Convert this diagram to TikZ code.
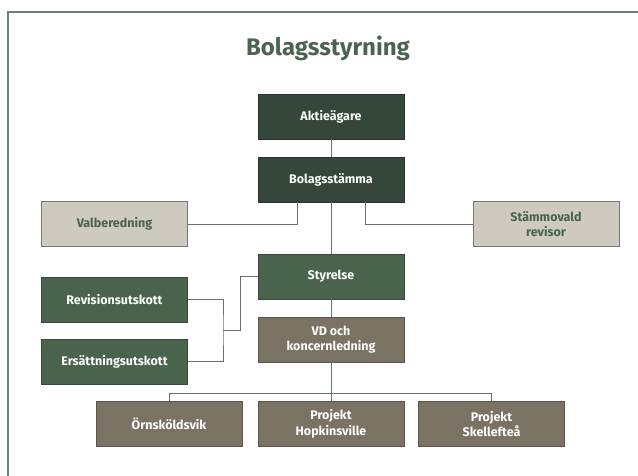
\documentclass[tikz,border=0pt]{standalone}
\usepackage{fontspec}
\setmainfont{Fira Sans}
\definecolor{morkgron}{HTML}{34473A}
\definecolor{gron}{HTML}{4A634D}
\definecolor{brun}{HTML}{7A7262}
\definecolor{ljus}{HTML}{CECAC0}
\definecolor{rubrikgron}{HTML}{4A6450}
\definecolor{linje}{HTML}{65736A}
\definecolor{ram}{HTML}{6E8175}
\begin{document}
\begin{tikzpicture}[x=1pt,y=-1pt,
  box/.style={minimum width=146pt,minimum height=45pt,inner sep=0pt,align=center,
    font=\bfseries\fontsize{12.5}{15.5}\selectfont,text=white!94!ljus,fill=#1,draw=#1!75!black,line width=0.7pt},
  ljusbox/.style={box=ljus,text=gron,draw=ljus!60!black},
  link/.style={draw=linje,line width=0.9pt}]
\useasboundingbox (0,0) rectangle (638,476);
\draw[ram,line width=1.6pt] (8,476) -- (8,12) -- (638,12);
\node[font=\bfseries\fontsize{24}{28}\selectfont,text=rubrikgron] (rubrik) at (328,48) {Bolagsstyrning};
% huvudkedja
\node[box=morkgron] (aktie) at (331,116.5) {Aktieägare};
\node[box=morkgron] (stamma) at (331,179.5) {Bolagsstämma};
\node[box=gron] (styr) at (331,276.5) {Styrelse};
\node[box=brun] (vd) at (331,339.5) {VD och\\koncernledning};
% sidorna
\node[ljusbox] (valb) at (114.5,224) {Valberedning};
\node[ljusbox] (revisor) at (546,224) {Stämmovald\\revisor};
\node[box=gron] (revision) at (114.5,299.5) {Revisionsutskott};
\node[box=gron] (ersatt) at (114.5,361.5) {Ersättningsutskott};
% enheter
\node[box=brun] (ornsk) at (169,424) {Örnsköldsvik};
\node[box=brun] (hopkins) at (331,424) {Projekt\\Hopkinsville};
\node[box=brun] (skell) at (491.5,424) {Projekt\\Skellefteå};
\draw[link] (aktie) -- (stamma);
\draw[link] (stamma) -- (styr);
\draw[link] (styr) -- (vd);
\draw[link] ([xshift=-34pt]stamma.south) |- (valb.east);
\draw[link] ([xshift=34pt]stamma.south) |- (revisor.west);
\coordinate (utskott) at (223,330.5);
\draw[link] (revision.east) -| (utskott) |- (ersatt.east);
\draw[link] (utskott) -- ++(17,0) |- (styr.west);
\draw[link] (vd.south) -- ++(0,31) coordinate (buss);
\draw[link] (ornsk.north) |- (buss) -| (skell.north);
\draw[link] (buss) -- (hopkins.north);
\end{tikzpicture}
\end{document}
